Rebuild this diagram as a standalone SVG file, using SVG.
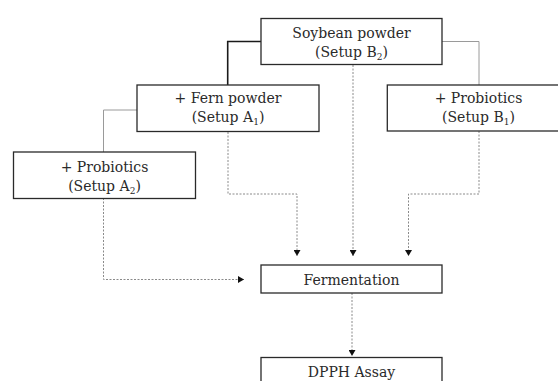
<svg xmlns="http://www.w3.org/2000/svg" width="558" height="381" viewBox="0 0 558 381">
<style>
.box{fill:#fff;stroke:#2a2a2a;stroke-width:1.3}
.t{font-family:"DejaVu Serif","Liberation Serif",serif;font-size:14px;fill:#2a2a2a;text-anchor:middle}
.sub{font-size:9px}
.solid{fill:none;stroke:#1a1a1a;stroke-width:1.6}
.grey{fill:none;stroke:#9a9a9a;stroke-width:1}
.dot{fill:none;stroke:#8a8a8a;stroke-width:1;stroke-dasharray:2 1.5;marker-end:url(#ah)}
</style>
<defs>
<marker id="ah" markerUnits="userSpaceOnUse" markerWidth="7" markerHeight="7" refX="6" refY="3.5" orient="auto">
<path d="M0,0 L6,3.5 L0,7 z" fill="#111"/>
</marker>
</defs>
<rect width="558" height="381" fill="#fff"/>
<g id="connectors">
<path class="solid" d="M261,41.5 H227.7 V85"/>
<path class="grey" d="M442,41.5 H479 V85"/>
<path class="grey" d="M137,110 H103.5 V152"/>
<path class="dot" d="M103.5,198 V279.5 H244"/>
<path class="dot" d="M228,132 V194 H297 V256"/>
<path class="dot" d="M353,65 V256"/>
<path class="dot" d="M479,131 V194 H408.5 V256"/>
<path class="dot" d="M352,293 V356"/>
</g>
<g id="soybean">
<rect class="box" x="261" y="18.5" width="181" height="46"/>
<text class="t" x="351.5" y="37.5">Soybean powder</text>
<text class="t" x="351.5" y="57">(Setup B<tspan class="sub" dy="3">2</tspan><tspan dy="-3">)</tspan></text>
</g>
<g id="fern">
<rect class="box" x="137" y="85" width="182" height="46.5"/>
<text class="t" x="228" y="102.5">+ Fern powder</text>
<text class="t" x="228" y="122">(Setup A<tspan class="sub" dy="3">1</tspan><tspan dy="-3">)</tspan></text>
</g>
<g id="probB1">
<rect class="box" x="387.3" y="85" width="183" height="46"/>
<text class="t" x="478.5" y="102.5">+ Probiotics</text>
<text class="t" x="478.5" y="122">(Setup B<tspan class="sub" dy="3">1</tspan><tspan dy="-3">)</tspan></text>
</g>
<g id="probA2">
<rect class="box" x="13.5" y="152" width="182" height="46.5"/>
<text class="t" x="104.5" y="171.5">+ Probiotics</text>
<text class="t" x="104.5" y="191">(Setup A<tspan class="sub" dy="3">2</tspan><tspan dy="-3">)</tspan></text>
</g>
<g id="fermentation">
<rect class="box" x="261" y="265" width="181" height="28"/>
<text class="t" x="351.5" y="284.5">Fermentation</text>
</g>
<g id="dpph">
<rect class="box" x="261" y="357.5" width="181" height="30"/>
<text class="t" x="351.5" y="377">DPPH Assay</text>
</g>
</svg>
